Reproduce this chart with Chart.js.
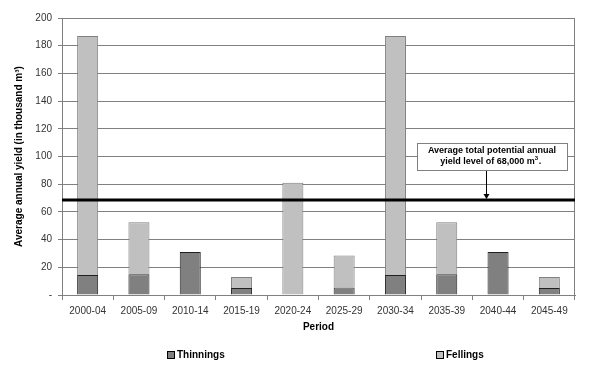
<!DOCTYPE html>
<html>
<head>
<meta charset="utf-8">
<script src="https://cdn.jsdelivr.net/npm/chart.js@4/dist/chart.umd.min.js"></script>
<style>
  html, body { margin: 0; padding: 0; background: #fff; }
</style>
</head>
<body>
<canvas id="yield_chart" width="600" height="369"></canvas>
<script>
// values (thousand m3)
var periods = ['2000-04', '2005-09', '2010-14', '2015-19', '2020-24', '2025-29', '2030-34', '2035-39', '2040-44', '2045-49'];
var thinnings = [14.5, 15, 31, 5, 0, 5.5, 14.5, 15, 31, 5];
var fellings = [172.5, 37.5, 0, 8, 81, 23, 172.5, 37.5, 0, 8];
var avg_yield = 68.6;
var y_ticks = [0, 20, 40, 60, 80, 100, 120, 140, 160, 180, 200];

Chart.defaults.font.family = "'Liberation Sans', Arial, sans-serif";
Chart.defaults.font.size = 10;
Chart.defaults.color = '#000';

// thick average line + note box
var avgLine = {
  id: 'avgLine',
  afterDatasetsDraw: function(chart) {
    var ctx = chart.ctx, area = chart.chartArea;
    var y = chart.scales.y.getPixelForValue(avg_yield);
    ctx.save();
    // right frame edge of the plot
    ctx.strokeStyle = '#808080';
    ctx.lineWidth = 1;
    ctx.beginPath();
    ctx.moveTo(Math.round(area.right) - 0.5, area.top);
    ctx.lineTo(Math.round(area.right) - 0.5, area.bottom);
    ctx.stroke();

    ctx.strokeStyle = '#000';
    ctx.lineWidth = 3;
    ctx.beginPath();
    ctx.moveTo(area.left, y);
    ctx.lineTo(area.right, y);
    ctx.stroke();

    // arrow from note down to the line
    var ax = 486.5;
    ctx.lineWidth = 1;
    ctx.beginPath();
    ctx.moveTo(ax, 170);
    ctx.lineTo(ax, y - 5);
    ctx.stroke();
    ctx.fillStyle = '#000';
    ctx.beginPath();
    ctx.moveTo(ax - 3, y - 6);
    ctx.lineTo(ax + 3, y - 6);
    ctx.lineTo(ax, y - 1);
    ctx.closePath();
    ctx.fill();

    // note box
    ctx.fillStyle = '#fff';
    ctx.fillRect(417.5, 143.5, 150, 27);
    ctx.strokeStyle = '#808080';
    ctx.strokeRect(417.5, 143.5, 150, 27);
    ctx.fillStyle = '#000';
    ctx.font = "bold 9px 'Liberation Sans', Arial, sans-serif";
    ctx.textAlign = 'center';
    ctx.textBaseline = 'middle';
    ctx.fillText('Average total potential annual', 492, 151);
    var t = 'yield level of 68,000 m';
    var w = ctx.measureText(t).width;
    var sx = 491 - (w + 7) / 2;
    ctx.textAlign = 'left';
    ctx.fillText(t, sx, 162);
    ctx.font = "bold 6px 'Liberation Sans', Arial, sans-serif";
    ctx.fillText('3', sx + w, 158);
    ctx.font = "bold 9px 'Liberation Sans', Arial, sans-serif";
    ctx.fillText('.', sx + w + 4, 162);
    ctx.restore();
  }
};

// legend drawn from the datasets, spread out like the original
var legend_x = [167, 436];
var spreadLegend = {
  id: 'spreadLegend',
  afterDraw: function(chart) {
    var ctx = chart.ctx;
    var ly = 355;
    ctx.save();
    chart.data.datasets.forEach(function(ds, i) {
      var x = legend_x[i];
      ctx.fillStyle = ds.backgroundColor;
      ctx.fillRect(x + 0.5, ly - 3.5, 7, 7);
      ctx.strokeStyle = '#000';
      ctx.lineWidth = 1;
      ctx.strokeRect(x + 0.5, ly - 3.5, 7, 7);
      ctx.fillStyle = '#000';
      ctx.font = "bold 10px 'Liberation Sans', Arial, sans-serif";
      ctx.textAlign = 'left';
      ctx.textBaseline = 'middle';
      ctx.fillText(ds.label, x + 10, ly);
    });
    ctx.restore();
  }
};

new Chart(document.getElementById('yield_chart'), {
  type: 'bar',
  data: {
    labels: periods,
    datasets: [
      {
        label: 'Thinnings',
        data: thinnings,
        backgroundColor: '#808080',
        borderColor: '#202020',
        borderWidth: function(c) { return c.raw ? 1 : 0; },
        borderSkipped: 'bottom',
        barPercentage: 0.41,
        categoryPercentage: 1
      },
      {
        label: 'Fellings',
        data: fellings,
        backgroundColor: '#c0c0c0',
        borderColor: '#808080',
        borderWidth: function(c) { return c.raw ? 1 : 0; },
        borderSkipped: 'bottom',
        barPercentage: 0.41,
        categoryPercentage: 1
      }
    ]
  },
  plugins: [avgLine, spreadLegend],
  options: {
    responsive: false,
    animation: false,
    layout: { padding: { top: 18, right: 25, left: 8, bottom: 36 } },
    plugins: {
      tooltip: { enabled: false },
      legend: { display: false }
    },
    scales: {
      x: {
        stacked: true,
        offset: true,
        grid: {
          offset: true,
          drawOnChartArea: false,
          tickLength: 5,
          color: '#808080'
        },
        border: { color: '#808080' },
        ticks: { color: '#333', padding: 5, font: { size: 10 }, maxRotation: 0 },
        title: {
          display: true,
          text: 'Period',
          font: { weight: 'bold', size: 10 },
          padding: { top: 4, bottom: 0 }
        },
        afterFit: function(s) { s.height = 38; }
      },
      y: {
        stacked: true,
        min: 0,
        max: 200,
        afterBuildTicks: function(s) { s.ticks = y_ticks.map(function(v) { return { value: v }; }); },
        grid: { color: '#808080', tickLength: 4 },
        border: { color: '#808080' },
        ticks: {
          color: '#333',
          padding: 6,
          font: { size: 10 },
          callback: function(v) { return v === 0 ? '-' : v; }
        },
        title: {
          display: true,
          text: 'Average annual yield (in thousand m³)',
          font: { weight: 'bold', size: 10 },
          padding: { top: 5, bottom: 0 }
        },
        afterFit: function(s) { s.width = 54; }
      }
    }
  }
});
</script>
</body>
</html>
